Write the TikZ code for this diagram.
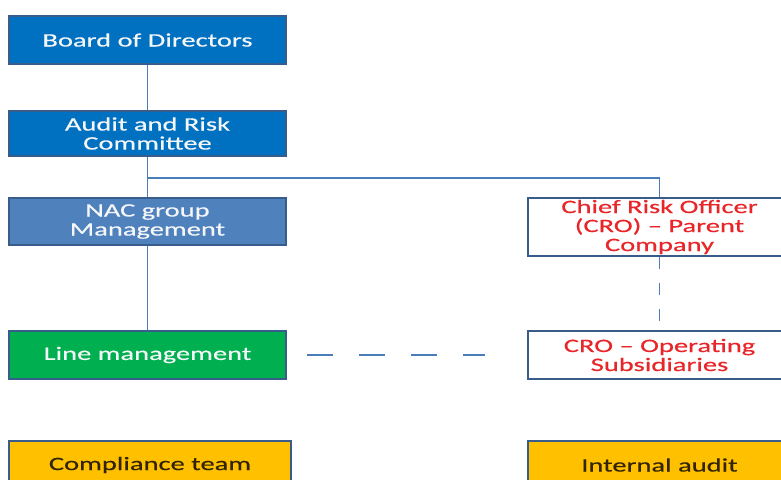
\documentclass[tikz,border=0pt]{standalone}
\usepackage{fontspec}
\setmainfont{Carlito}[FakeStretch=1.5,FakeBold=0.4]
\usetikzlibrary{calc}
\definecolor{bdblue}{HTML}{0070C0}
\definecolor{nacblue}{HTML}{4F81BD}
\definecolor{lgreen}{HTML}{00B050}
\definecolor{cyell}{HTML}{FFC000}
\definecolor{edge}{HTML}{385D8A}
\definecolor{conn}{HTML}{4A7EBB}
\definecolor{crored}{HTML}{E8262A}
\definecolor{darktxt}{HTML}{332400}
\definecolor{offwhite}{HTML}{F4F6F8}
\begin{document}
\begin{tikzpicture}[x=1pt,y=-1pt,
  orgbox/.style={draw=edge, line width=2pt, rectangle, anchor=north west,
    inner sep=0pt, align=center, font=\fontsize{19}{19}\selectfont},
  bluebox/.style={orgbox, fill=bdblue, text=offwhite},
  nacbox/.style={orgbox, fill=nacblue, text=offwhite},
  greenbox/.style={orgbox, fill=lgreen, text=offwhite},
  yellbox/.style={orgbox, fill=cyell, text=darktxt},
  crobox/.style={orgbox, fill=white, text=crored},
  link/.style={draw=conn, line width=1.3pt},
  hdash/.style={link, dash pattern=on 26pt off 26pt},
  vdash/.style={link, dash pattern=on 12pt off 14pt}]
\useasboundingbox (0,0) rectangle (781,479);
\clip (0,0) rectangle (781,479);
\fill[white] (0,0) rectangle (781,479);

\node[bluebox, minimum width=277pt, minimum height=48pt] (bod) at (8,15) {Board of Directors};
\node[bluebox, minimum width=277pt, minimum height=45pt] (arc) at (8,110) {Audit and Risk\\Committee};
\node[nacbox, minimum width=277pt, minimum height=47pt] (nac) at (8,197) {NAC group\\Management};
\node[greenbox, minimum width=277pt, minimum height=48pt] (line) at (8,330) {Line management};
\node[yellbox, minimum width=282pt, minimum height=48pt] (comp) at (8,440) {Compliance team};
\node[crobox, minimum width=263pt, minimum height=58pt] (crop) at (527,197) {Chief Risk Officer\\(CRO) -- Parent\\Company};
\node[crobox, minimum width=263pt, minimum height=48pt] (cros) at (527,330) {CRO -- Operating\\Subsidiaries};
\node[yellbox, minimum width=263pt, minimum height=48pt] (ia) at (527,440) {Internal audit};

\coordinate (junc) at ($(arc.south)+(0,21)$);
\coordinate (hs) at ($(line.east)+(20,0)$);
\coordinate (he) at ($(cros.west)+(-42,0)$);

\draw[link] (bod.south) -- (arc.north);
\draw[link] (arc.south) -- (nac.north);
\draw[link] (nac.south) -- (line.north);
\draw[link] (junc) -| (crop.north);
\draw[vdash] (crop.south) -- (cros.north);
\draw[hdash] (hs) -- (he);
\end{tikzpicture}
\end{document}
